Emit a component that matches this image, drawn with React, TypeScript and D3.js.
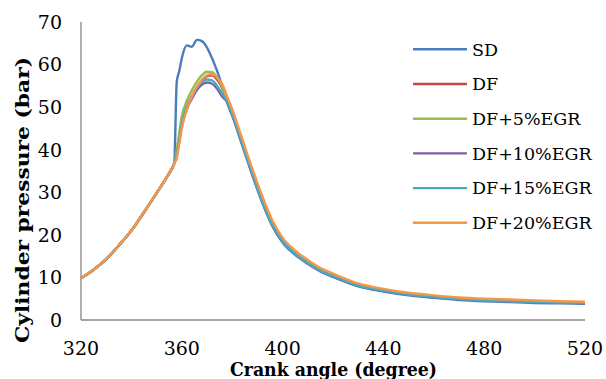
import React from "react";
import * as d3 from "d3";

const angles = [320, 325, 330, 335, 340, 345, 350, 354, 356, 357, 358, 359, 360, 362, 364, 366, 368, 370, 372, 374, 376, 378, 380, 384, 388, 392, 396, 400, 405, 410, 415, 420, 430, 440, 450, 460, 470, 480, 490, 500, 510, 520];

const compression = [9.8, 11.8, 14.3, 17.5, 21.0, 25.3, 29.8, 33.5, 35.5, 36.8];
const decline = [51.5, 48.5, 41.5, 34.5, 27.8, 22.3, 18.6, 15.6, 13.5, 11.7, 10.4, 8.2, 7.0, 6.1, 5.5, 5.0, 4.7, 4.5, 4.3, 4.2, 4.1];

const sdValues = [...compression, 56.0, 58.5, 61.5, 64.5, 64.2, 65.8, 65.5, 64.0, 61.5, 58.5, 55.0, 51.0, 48.0, 41.0, 34.0, 27.5, 22.0, 18.2, 15.3, 13.2, 11.4, 10.1, 7.9, 6.7, 5.8, 5.2, 4.7, 4.4, 4.2, 4.0, 3.9, 3.8];
const dfValues = [...compression, 39.0, 42.5, 46.0, 50.0, 52.5, 54.5, 56.3, 57.3, 57.5, 56.5, 54.5, ...decline];
const df5Values = [...compression, 40.0, 44.0, 47.8, 51.5, 54.0, 56.0, 57.5, 58.3, 58.2, 57.0, 54.8, ...decline];
const df10Values = [...compression, 38.5, 42.0, 45.5, 49.5, 52.0, 54.0, 55.3, 55.8, 55.5, 54.3, 52.5, 51.2, 48.2, 41.2, 34.2, 27.6, 22.1, 18.4, 15.4, 13.3, 11.5, 10.2, 8.0, 6.8, 6.0, 5.4, 4.9, 4.6, 4.4, 4.2, 4.1, 4.0];
const df15Values = [...compression, 38.7, 42.3, 46.0, 50.0, 52.6, 54.6, 56.0, 56.5, 56.3, 55.0, 53.2, 51.4, 48.4, 41.4, 34.4, 27.7, 22.2, 18.5, 15.5, 13.4, 11.6, 10.3, 8.1, 6.9, 6.0, 5.4, 4.9, 4.6, 4.4, 4.2, 4.1, 4.0];
const df20Values = [...compression, 38.0, 41.5, 45.0, 49.5, 52.5, 54.8, 56.5, 57.5, 57.8, 57.0, 55.5, 52.5, 49.5, 42.5, 35.5, 29.0, 23.3, 19.3, 16.3, 14.1, 12.2, 10.9, 8.6, 7.3, 6.4, 5.8, 5.3, 5.0, 4.8, 4.6, 4.4, 4.3];

const seriesNames = ["SD", "DF", "DF+5%EGR", "DF+10%EGR", "DF+15%EGR", "DF+20%EGR"];
const seriesData = [sdValues, dfValues, df5Values, df10Values, df15Values, df20Values];
const seriesColors = ["#4A7EBB", "#BE4B48", "#98B954", "#7D60A0", "#46AAC5", "#F79646"];

const xTicks = [320, 360, 400, 440, 480, 520];
const yTicks = [0, 10, 20, 30, 40, 50, 60, 70];

export default function App() {
  const x = d3.scaleLinear().domain([320, 520]).range([81, 585]);
  const y = d3.scaleLinear().domain([0, 70]).range([320, 22]);
  const line = d3
    .line<number>()
    .x((_, i) => x(angles[i]))
    .y((d) => y(d))
    .curve(d3.curveMonotoneX);
  return (
    <svg
      width={606}
      height={379}
      style={{ position: "absolute", left: 0, top: 0, background: "#fff", fontFamily: "'DejaVu Serif', 'Liberation Serif', serif" }}
    >
      <line x1={x(320)} x2={x(320)} y1={y(70)} y2={y(0)} stroke="#868686" strokeWidth={1.3} />
      <line x1={x(320)} x2={x(520)} y1={y(0)} y2={y(0)} stroke="#868686" strokeWidth={1.3} />
      {yTicks.map((t) => (
        <text key={t} x={62} y={y(t)} dy="0.36em" textAnchor="end" fontSize={19} fill="#000">
          {t}
        </text>
      ))}
      {xTicks.map((t) => (
        <text key={t} x={x(t)} y={355} textAnchor="middle" fontSize={19} fill="#000">
          {t}
        </text>
      ))}
      {seriesData.map((vals, i) => (
        <path key={i} d={line(vals) || ""} fill="none" stroke={seriesColors[i]} strokeWidth={2.4} strokeLinejoin="round" />
      ))}
      {seriesNames.map((n, i) => {
        const ly = 49.3 + i * 34.7;
        return (
          <g key={n}>
            <line x1={413} x2={467} y1={ly} y2={ly} stroke={seriesColors[i]} strokeWidth={2.4} />
            <text x={472} y={ly} dy="0.36em" fontSize={17.5} fill="#000">
              {n}
            </text>
          </g>
        );
      })}
      <text
        transform="translate(29,200) rotate(-90)"
        textAnchor="middle"
        fontSize={18}
        fontWeight="bold"
        textLength={286}
        lengthAdjust="spacingAndGlyphs"
        fill="#000"
      >
        Cylinder pressure (bar)
      </text>
      <text x={333.5} y={376} textAnchor="middle" fontSize={18} fontWeight="bold" textLength={207} lengthAdjust="spacingAndGlyphs" fill="#000">
        Crank angle (degree)
      </text>
    </svg>
  );
}
